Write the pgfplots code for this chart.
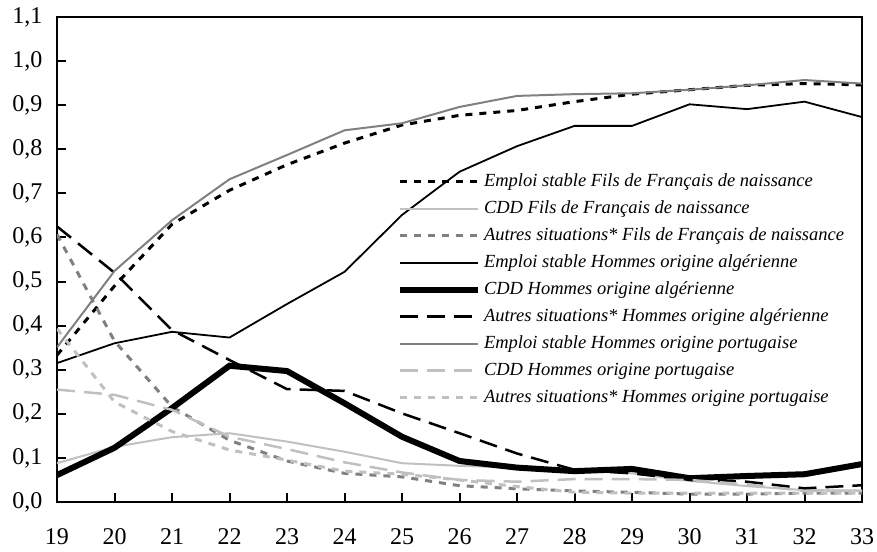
\documentclass[border=0pt]{standalone}
\usepackage{fontspec}
\setmainfont{Liberation Serif}
\usepackage{pgfplots}
\usepackage{pgfplotstable}
\pgfplotsset{compat=1.18}
\definecolor{lgray}{RGB}{192,192,192}
\definecolor{mgray}{RGB}{128,128,128}
\pgfplotstableread{
x  s1    s2    s3    s4    s5    s6    s7    s8    s9
19 0.333 0.088 0.607 0.315 0.061 0.625 0.351 0.255 0.393
20 0.490 0.125 0.365 0.360 0.123 0.520 0.524 0.243 0.227
21 0.630 0.147 0.216 0.386 0.213 0.390 0.639 0.209 0.160
22 0.707 0.156 0.140 0.373 0.309 0.322 0.732 0.148 0.118
23 0.765 0.137 0.093 0.449 0.297 0.256 0.787 0.120 0.095
24 0.814 0.114 0.065 0.522 0.224 0.252 0.843 0.090 0.070
25 0.855 0.088 0.057 0.651 0.148 0.201 0.859 0.067 0.063
26 0.877 0.082 0.037 0.749 0.093 0.156 0.896 0.050 0.050
27 0.888 0.078 0.030 0.807 0.078 0.110 0.921 0.046 0.035
28 0.908 0.072 0.025 0.853 0.070 0.073 0.925 0.052 0.022
29 0.925 0.065 0.022 0.853 0.075 0.065 0.927 0.052 0.020
30 0.935 0.048 0.018 0.902 0.054 0.050 0.935 0.050 0.020
31 0.945 0.036 0.018 0.891 0.059 0.046 0.945 0.040 0.020
32 0.949 0.027 0.020 0.908 0.063 0.031 0.957 0.025 0.020
33 0.946 0.026 0.020 0.873 0.086 0.038 0.949 0.025 0.020
}\data
\begin{document}
\begin{tikzpicture}
\begin{axis}[
  scale only axis, width=805pt, height=485pt,
  xmin=19, xmax=33, ymin=0, ymax=1.1,
  xtick={19,20,...,33},
  ytick={0,0.1,0.2,0.3,0.4,0.5,0.6,0.7,0.8,0.9,1.0,1.1},
  tick align=inside, xtick pos=bottom, ytick pos=left,
  major tick length=9pt,
  every tick/.style={black, line width=2pt},
  axis line style={line width=2.5pt},
  ticklabel style={font=\fontsize{24}{24}\selectfont},
  /pgf/number format/assume math mode=true,
  y tick label style={/pgf/number format/fixed, /pgf/number format/fixed zerofill,
    /pgf/number format/precision=1, /pgf/number format/use comma, xshift=-11pt},
  xticklabel style={yshift=-23pt},
  legend image code/.code={\draw[#1] (0pt,0pt) -- (78pt,0pt);},
  legend cell align=left,
  legend style={at={(0.4224,0.680)}, anchor=north west, draw=none, fill=none,
    inner sep=0pt, outer sep=0pt, row sep=8pt, column sep=3pt,
    nodes={inner sep=0pt, text height=14pt, text depth=5pt, anchor=west,
      font=\itshape\fontsize{18.5}{18.5}\selectfont}},
]
\addplot[black, line width=3pt, dash pattern=on 7pt off 7pt] table[x=x,y=s1]{\data};
\addlegendentry{Emploi stable Fils de Français de naissance}
\addplot[lgray, line width=2pt] table[x=x,y=s2]{\data};
\addlegendentry{CDD Fils de Français de naissance}
\addplot[mgray, line width=3pt, dash pattern=on 7pt off 7pt] table[x=x,y=s3]{\data};
\addlegendentry{Autres situations* Fils de Français de naissance}
\addplot[black, line width=1.8pt] table[x=x,y=s4]{\data};
\addlegendentry{Emploi stable Hommes origine algérienne}
\addplot[black, line width=6pt] table[x=x,y=s5]{\data};
\addlegendentry{CDD Hommes origine algérienne}
\addplot[black, line width=2.5pt, dash pattern=on 18pt off 9pt] table[x=x,y=s6]{\data};
\addlegendentry{Autres situations* Hommes origine algérienne}
\addplot[mgray, line width=2pt] table[x=x,y=s7]{\data};
\addlegendentry{Emploi stable Hommes origine portugaise}
\addplot[lgray, line width=2.5pt, dash pattern=on 18pt off 9pt] table[x=x,y=s8]{\data};
\addlegendentry{CDD Hommes origine portugaise}
\addplot[lgray, line width=3pt, dash pattern=on 7pt off 7pt] table[x=x,y=s9]{\data};
\addlegendentry{Autres situations* Hommes origine portugaise}
\end{axis}
\pgfresetboundingbox
\path[use as bounding box] ([xshift=-57pt,yshift=-49pt]current axis.south west) rectangle ([xshift=15pt,yshift=17pt]current axis.north east);
\end{tikzpicture}
\end{document}
